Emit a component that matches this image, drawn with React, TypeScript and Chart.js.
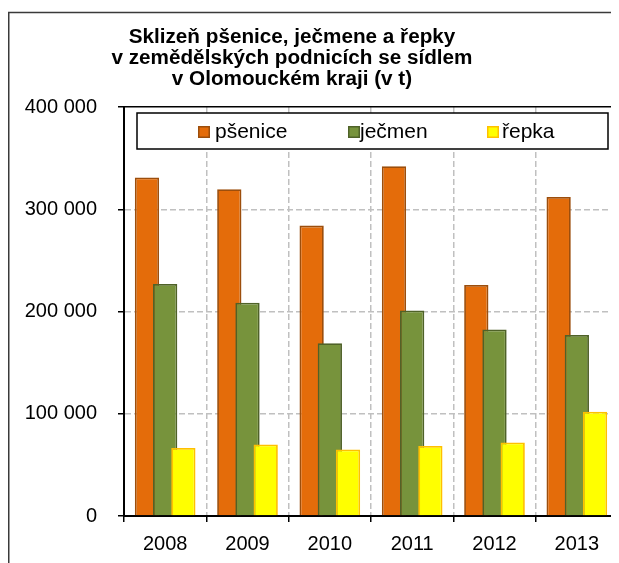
import React, { useEffect, useRef } from 'react';
import { Chart, registerables } from 'chart.js';

Chart.register(...registerables);

const categories = ['2008', '2009', '2010', '2011', '2012', '2013'];
const psenice = [331000, 319500, 284000, 342000, 226000, 312000];
const jecmen = [227000, 208500, 169000, 201000, 182500, 177000];
const repka = [66500, 70000, 65000, 68500, 72000, 102000];
const seriesNames = ['pšenice', 'ječmen', 'řepka'];
const titleLines = [
  'Sklizeň pšenice, ječmene a řepky',
  'v zemědělských podnicích se sídlem',
  'v Olomouckém kraji (v t)',
];
const yMin = 0;
const yMax = 400000;
const yStep = 100000;

const FONT = "'Liberation Sans', Arial, sans-serif";
const fills = ['#E46C0A', '#77933C', '#FFFF00'];
const borders = ['#9C4E0C', '#4F6228', '#FFC000'];

const fmt = (v: number) => String(v).replace(/\B(?=(\d{3})+(?!\d))/g, ' ');

const W = 611;
const H = 555;

const framePlugin = {
  id: 'frame',
  beforeDraw(chart: any) {
    const ctx = chart.ctx;
    ctx.save();
    ctx.fillStyle = '#ffffff';
    ctx.fillRect(0, 0, W, H);
    ctx.strokeStyle = '#3a3a3a';
    ctx.lineWidth = 1.5;
    ctx.strokeRect(0.75, 4.5, 609.5, 700);
    ctx.restore();
  },
};

const forwardDrawPlugin = {
  id: 'forwardDraw',
  beforeDatasetsDraw(chart: any) {
    const metas = chart.getSortedVisibleDatasetMetas();
    for (let i = 0; i < metas.length; i++) {
      metas[i].controller.draw();
    }
    return false;
  },
};

const titlePlugin = {
  id: 'customTitle',
  afterDraw(chart: any) {
    const ctx = chart.ctx;
    ctx.save();
    ctx.font = `bold 20.7px ${FONT}`;
    ctx.fillStyle = '#000';
    ctx.textAlign = 'center';
    ctx.textBaseline = 'middle';
    const ys = [29.5, 50.5, 71.5];
    titleLines.forEach((t, i) => ctx.fillText(t, 284, ys[i]));
    ctx.restore();
  },
};

const legendPlugin = {
  id: 'boxLegend',
  afterDraw(chart: any) {
    const ctx = chart.ctx;
    ctx.save();
    ctx.fillStyle = '#fff';
    ctx.fillRect(129, 105, 471, 36);
    ctx.strokeStyle = '#000';
    ctx.lineWidth = 1.5;
    ctx.strokeRect(129, 105, 471, 36);
    const swX = [190, 340, 479];
    const txX = [207, 352, 494];
    ctx.font = `21px ${FONT}`;
    ctx.textBaseline = 'middle';
    ctx.textAlign = 'left';
    chart.data.datasets.forEach((ds: any, i: number) => {
      ctx.fillStyle = ds.borderColor;
      ctx.fillRect(swX[i], 118, 12, 12);
      ctx.fillStyle = ds.backgroundColor;
      ctx.fillRect(swX[i] + 1.5, 119.5, 9, 9);
      ctx.fillStyle = '#000';
      ctx.fillText(ds.label, txX[i], 124.5);
    });
    ctx.restore();
  },
};

export default function App() {
  const ref = useRef<HTMLCanvasElement>(null);
  useEffect(() => {
    document.body.style.overflow = 'hidden';
    const canvas = ref.current!;
    const seriesData = [psenice, jecmen, repka];
    const chart = new Chart(canvas, {
      type: 'bar',
      data: {
        labels: categories,
        datasets: seriesNames.map((name, i) => ({
          label: name,
          data: seriesData[i],
          backgroundColor: fills[i],
          borderColor: borders[i],
          borderWidth: 1.8,
          borderSkipped: 'start',
          barPercentage: 1.335,
          categoryPercentage: 0.663,
        })),
      },
      options: {
        responsive: false,
        animation: false,
        devicePixelRatio: 1,
        layout: { padding: { top: 99, right: 1, left: 0, bottom: 0 } },
        plugins: {
          legend: { display: false },
          title: { display: false },
          tooltip: { enabled: false },
        },
        scales: {
          x: {
            offset: true,
            grid: {
              offset: true,
              color: '#c0c0c0',
              lineWidth: 1.5,
              drawTicks: true,
              tickLength: 6,
              tickColor: '#000',
              tickWidth: 1.5,
              tickBorderDash: [],
            },
            border: {
              display: true,
              color: '#000',
              width: 2,
              dash: (c: any) => (c.type === 'tick' ? [6, 3] : []),
            },
            ticks: {
              color: '#000',
              font: { family: FONT, size: 20 },
              padding: 10,
              maxRotation: 0,
            },
            afterFit(scale: any) {
              scale.height = 47;
            },
          },
          y: {
            min: yMin,
            max: yMax,
            grid: {
              color: (c: any) => (c.tick && c.tick.value === yMax ? '#000' : '#c0c0c0'),
              lineWidth: 1.5,
              tickLength: 6,
              tickColor: '#000',
              tickWidth: 1.5,
              tickBorderDash: [],
            },
            border: {
              display: true,
              color: '#000',
              width: 2,
              dash: (c: any) => (c.type === 'tick' && c.tick.value !== yMax ? [6, 3] : []),
            },
            ticks: {
              stepSize: yStep,
              color: '#000',
              font: { family: FONT, size: 20 },
              padding: 21,
              callback: (v: any) => fmt(Number(v)),
            },
            afterFit(scale: any) {
              scale.width = 116;
            },
          },
        },
      },
      plugins: [framePlugin, forwardDrawPlugin, titlePlugin, legendPlugin],
    } as any);
    return () => chart.destroy();
  }, []);
  return (
    <div style={{ width: W, height: H }}>
      <canvas ref={ref} width={W} height={H} style={{ width: W, height: H, display: 'block' }} />
    </div>
  );
}
